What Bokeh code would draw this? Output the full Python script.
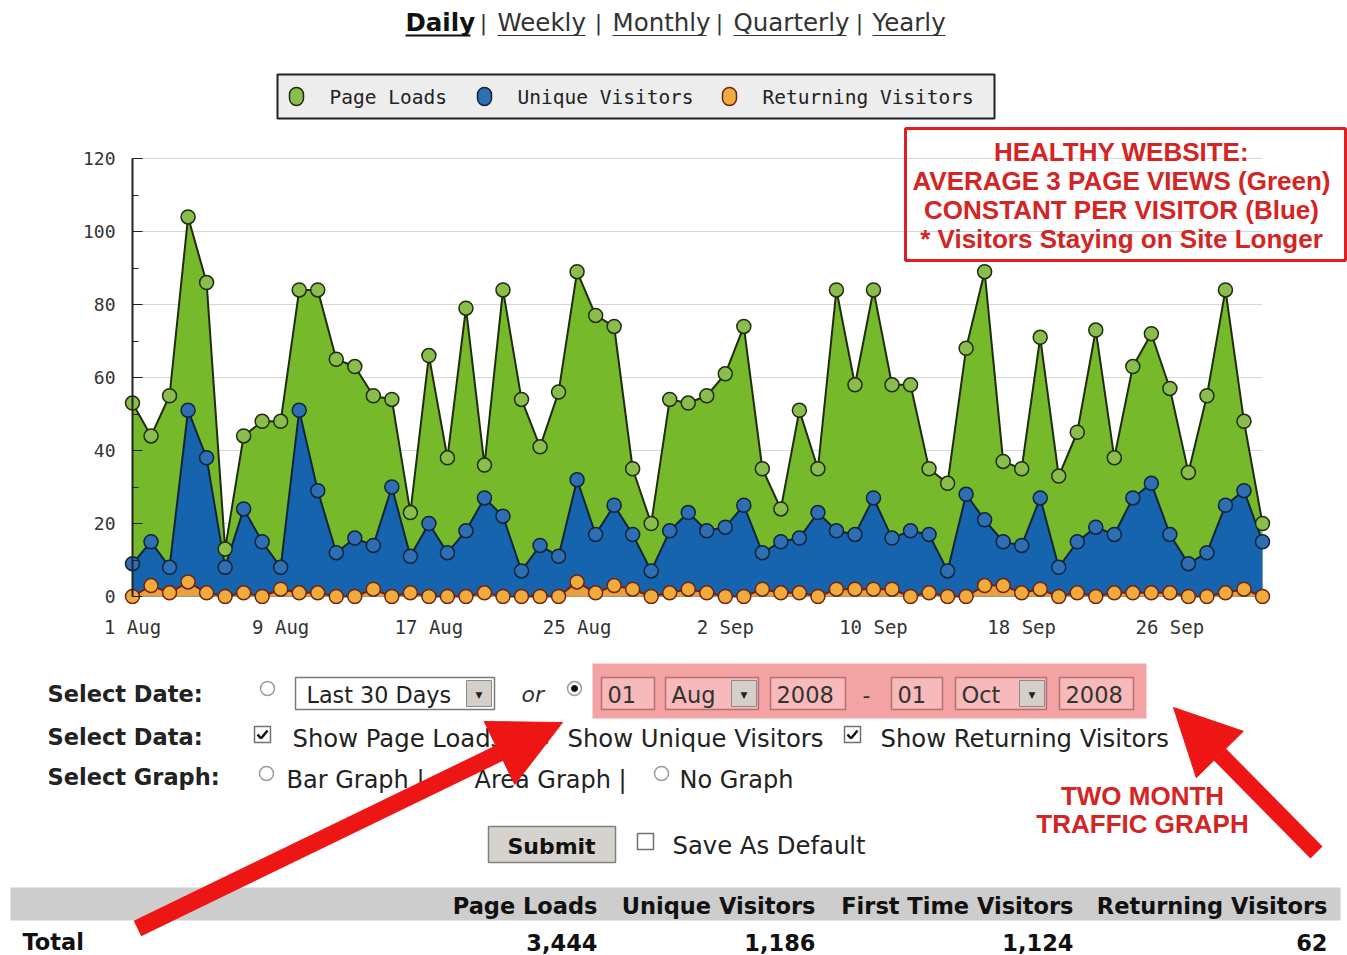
from bokeh.plotting import figure
from bokeh.layouts import column
from bokeh.models import (Range1d, Label, BoxAnnotation, Arrow, NormalHead,
                          FixedTicker, SingleIntervalTicker, ColumnDataSource)
from bokeh.embed import file_html
from bokeh.resources import INLINE

# ---------------- data ----------------
days = list(range(62))  # 0 = 1 Aug 2008 ... 61 = 1 Oct 2008
page_loads = [53, 44, 55, 104, 86, 13, 44, 48, 48, 84,
              84, 65, 63, 55, 54, 23, 66, 38, 79, 36,
              84, 54, 41, 56, 89, 77, 74, 35, 20, 54,
              53, 55, 61, 74, 35, 24, 51, 35, 84, 58,
              84, 58, 58, 35, 31, 68, 89, 37, 35, 71,
              33, 45, 73, 38, 63, 72, 57, 34, 55, 84,
              48, 20]
unique_visitors = [9, 15, 8, 51, 38, 8, 24, 15, 8, 51,
                   29, 12, 16, 14, 30, 11, 20, 12, 18, 27,
                   22, 7, 14, 11, 32, 17, 25, 17, 7, 18,
                   23, 18, 19, 25, 12, 15, 16, 23, 18, 17,
                   27, 16, 18, 17, 7, 28, 21, 15, 14, 27,
                   8, 15, 19, 17, 27, 31, 17, 9, 12, 25,
                   29, 15]
returning_visitors = [0, 3, 1, 4, 1, 0, 1, 0, 2, 1,
                      1, 0, 0, 2, 0, 1, 0, 0, 0, 1,
                      0, 0, 0, 0, 4, 1, 3, 2, 0, 1,
                      2, 1, 0, 0, 2, 1, 1, 0, 2, 2,
                      2, 2, 0, 1, 0, 0, 3, 3, 1, 2,
                      0, 1, 0, 1, 1, 1, 1, 0, 0, 1,
                      2, 0]
tick_days = [0, 8, 16, 24, 32, 40, 48, 56]
tick_labels = ["1 Aug", "9 Aug", "17 Aug", "25 Aug", "2 Sep", "10 Sep", "18 Sep", "26 Sep"]
y_ticks_interval = 20

legend_names = ["Page Loads", "Unique Visitors", "Returning Visitors"]
nav_items = ["Daily", "Weekly", "Monthly", "Quarterly", "Yearly"]
table_headers = ["Page Loads", "Unique Visitors", "First Time Visitors", "Returning Visitors"]
table_totals = ["3,444", "1,186", "1,124", "62"]
note_lines = ["HEALTHY WEBSITE:", "AVERAGE 3 PAGE VIEWS (Green)",
              "CONSTANT PER VISITOR (Blue)", "* Visitors Staying on Site Longer"]

# ---------------- colours ----------------
G_AREA, G_MARK, G_LINE = "#76b92a", "#8abd4c", "#1f2c10"
B_AREA, B_MARK, B_LINE = "#1764ae", "#2e6fb4", "#13233a"
O_AREA, O_MARK, O_LINE = "#e9a03e", "#f1aa3c", "#6e2414"
RED = "#ee1515"
NOTE_RED = "#d42424"
W = 1347


def deco_figure(top, bottom):
    f = figure(width=W, height=bottom - top, x_range=Range1d(0, W), y_range=Range1d(bottom, top),
               output_backend="svg", toolbar_location=None,
               x_axis_location=None, y_axis_location=None, min_border=0)
    f.frame_align = False
    f.xgrid.visible = False
    f.ygrid.visible = False
    f.outline_line_color = None
    return f


# ---------------- chart figure (page rows 120..650) ----------------
PX_PER_DAY = 1130 / 61
PX_PER_UNIT = 438 / 120
FR_LEFT, FR_RIGHT, FR_TOP, FR_BOTTOM, FIG_BOTTOM = 68, W, 120, 604, 650
p = figure(width=W, height=FIG_BOTTOM - FR_TOP,
           x_range=Range1d((FR_LEFT - 132) / PX_PER_DAY, (FR_RIGHT - 132) / PX_PER_DAY),
           y_range=Range1d((596 - FR_BOTTOM) / PX_PER_UNIT, (596 - FR_TOP) / PX_PER_UNIT),
           output_backend="svg", toolbar_location=None,
           min_border_left=FR_LEFT, min_border_right=W - FR_RIGHT,
           min_border_top=0, min_border_bottom=FIG_BOTTOM - FR_BOTTOM)
p.frame_align = False
p.extra_x_ranges = {"px": Range1d(FR_LEFT, FR_RIGHT)}
p.extra_y_ranges = {"px": Range1d(FR_BOTTOM, FR_TOP)}
p.outline_line_color = None

p.yaxis.ticker = SingleIntervalTicker(interval=y_ticks_interval, num_minor_ticks=2)
p.yaxis.fixed_location = 0
p.yaxis.bounds = (0, 120)
p.yaxis.axis_line_color = "#222222"
p.yaxis.axis_line_width = 2
p.yaxis.major_tick_in = 10
p.yaxis.major_tick_out = 0
p.yaxis.minor_tick_in = 6
p.yaxis.minor_tick_out = 0
p.yaxis.major_tick_line_color = "#222222"
p.yaxis.minor_tick_line_color = "#222222"
p.yaxis.major_label_standoff = 17
p.yaxis.major_label_text_font = "DejaVu Sans Mono"
p.yaxis.major_label_text_font_size = "18px"
p.yaxis.major_label_text_color = "#333333"

p.xaxis.ticker = FixedTicker(ticks=tick_days, minor_ticks=[])
p.xaxis.major_label_overrides = {d: t for d, t in zip(tick_days, tick_labels)}
p.xaxis.axis_line_color = None
p.xaxis.major_tick_line_color = None
p.xaxis.minor_tick_line_color = None
p.xaxis.major_label_standoff = 5
p.xaxis.major_label_text_font = "DejaVu Sans Mono"
p.xaxis.major_label_text_font_size = "19px"
p.xaxis.major_label_text_color = "#333333"

p.xgrid.visible = False
p.ygrid.grid_line_color = "#d6d6d6"
p.ygrid.grid_line_width = 1
p.ygrid.cross_bounds = (0, 61)

src = ColumnDataSource(dict(x=days, pl=page_loads, uv=unique_visitors, rv=returning_visitors))
for col, area, line in [("pl", G_AREA, G_LINE), ("uv", B_AREA, B_LINE), ("rv", O_AREA, O_LINE)]:
    p.varea(x="x", y1=0, y2=col, source=src, fill_color=area)
    p.line("x", col, source=src, line_color=line, line_width=2)
for col, mark, line in [("pl", G_MARK, G_LINE), ("uv", B_MARK, B_LINE), ("rv", O_MARK, O_LINE)]:
    p.scatter("x", col, source=src, marker="circle", size=14,
              fill_color=mark, line_color=line, line_width=1.5)

top = deco_figure(0, FR_TOP)
bot = deco_figure(FIG_BOTTOM, 955)


# ---------------- helpers for the page decorations ----------------
def lab(f, x, y, text, size=24, font="DejaVu Sans", style="normal", color="#222222",
        align="left", baseline="middle", rn="default"):
    f.add_layout(Label(x=x, y=y, x_range_name=rn, y_range_name=rn, text=text,
                       text_font=font, text_font_size=f"{size}px", text_font_style=style,
                       text_color=color, text_align=align, text_baseline=baseline))


def box(f, l, r, t, b, fill="white", line="#808080", lw=1.0, radius=0, rn="default"):
    f.add_layout(BoxAnnotation(left=l, right=r, top=t, bottom=b,
                               x_range_name=rn, y_range_name=rn,
                               fill_color=fill, fill_alpha=1.0,
                               line_color=line, line_alpha=1.0, line_width=lw,
                               border_radius=int(radius)))


def seg(f, x0, y0, x1, y1, color="#222222", width=1.0):
    f.add_layout(Arrow(x_start=x0, y_start=y0, x_end=x1, y_end=y1,
                       line_color=color, line_width=width, end=None))


def radio(f, cx, cy, selected=False):
    box(f, cx - 7, cx + 7, cy - 7, cy + 7, fill="white", line="#9a9a9a", lw=1.5, radius=7)
    if selected:
        box(f, cx - 3, cx + 3, cy - 3, cy + 3, fill="#111111", line="#111111", lw=1, radius=3)


def checkbox(f, l, t, checked=True):
    box(f, l, l + 16, t, t + 16, fill="white", line="#707070", lw=1.5)
    if checked:
        seg(f, l + 3, t + 8, l + 6.5, t + 12, "#111111", 2.5)
        seg(f, l + 6.5, t + 12, l + 13, t + 4, "#111111", 2.5)


def dropdown_btn(f, l, t, b):
    box(f, l, l + 25, t, b, fill="#d4d0c8", line="#8a8a8a", lw=1)
    lab(f, l + 12.5, (t + b) / 2 + 1, "\u25bc", size=9, color="#222222", align="center")


# ---------------- navigation links ----------------
nav_x = [405, 497, 612, 733, 872]
nav_w = [65, 88, 94, 113, 73]
for i, (name, x, w) in enumerate(zip(nav_items, nav_x, nav_w)):
    lab(top, x, 22, name, size=24.5, style="bold" if i == 0 else "normal",
        color="#111111" if i == 0 else "#333333")
    seg(top, x, 35, x + w, 35, "#111111" if i == 0 else "#333333", 2 if i == 0 else 1.2)
    if i < len(nav_items) - 1:
        lab(top, x + w + 13, 22, "|", size=22, color="#333333", align="center")

# ---------------- legend ----------------
box(top, 277, 994, 74, 118, fill="#ededed", line="#222222", lw=2)
leg_x = [296, 484, 729]
for name, x, mark, line in zip(legend_names, leg_x, [G_MARK, B_MARK, O_MARK], [G_LINE, B_LINE, O_LINE]):
    box(top, x - 7, x + 7, 87, 105, fill=mark, line=line, lw=1.5, radius=7)
    lab(top, x + 33, 97, name, size=19.5, font="DejaVu Sans Mono", color="#222222")

# ---------------- annotation box (over the chart) ----------------
box(p, 905, 1345, 128, 260, fill=None, line="#e02020", lw=3, rn="px")
for i, t in enumerate(note_lines):
    lab(p, 1121, 151 + 29 * i, t, size=26, font="Liberation Sans", style="bold",
        color=NOTE_RED, align="center", rn="px")

# ---------------- form ----------------
lab(bot, 47, 693, "Select Date:", size=22.5, style="bold", color="#222222")
lab(bot, 47, 736, "Select Data:", size=22.5, style="bold", color="#222222")
lab(bot, 47, 776, "Select Graph:", size=22.5, style="bold", color="#222222")

radio(bot, 267, 688, False)
box(bot, 295, 494, 677, 709, fill="white", line="#7a7a7a", lw=1.5)
lab(bot, 306, 694, "Last 30 Days", size=22.3, color="#222222")
dropdown_btn(bot, 466, 680, 706)
lab(bot, 521, 694, "or", size=22, style="italic", color="#333333")
radio(bot, 574, 688, True)

box(bot, 592, 1146, 663, 718, fill="#f3a3a3", line=None)
inputs = [(601, 654, "01"), (665, 758, "Aug"), (770, 845, "2008"),
          (891, 942, "01"), (955, 1046, "Oct"), (1059, 1133, "2008")]
for l, r, t in inputs:
    box(bot, l, r, 677, 709, fill="#f7b9b9", line="#b77070", lw=1.5)
    lab(bot, l + 6, 694, t, size=22.5, color="#333333")
dropdown_btn(bot, 731, 680, 706)
dropdown_btn(bot, 1019, 680, 706)
lab(bot, 866, 694, "-", size=22, color="#333333", align="center")

checkbox(bot, 254, 726)
lab(bot, 292, 738, "Show Page Loads", size=24.3, color="#222222")
checkbox(bot, 531, 727)
lab(bot, 567, 738, "Show Unique Visitors", size=24.3, color="#222222")
checkbox(bot, 844, 726)
lab(bot, 880, 738, "Show Returning Visitors", size=24.3, color="#222222")

radio(bot, 266, 773)
lab(bot, 286, 779, "Bar Graph |", size=24, color="#222222")
radio(bot, 457, 773, True)
lab(bot, 474, 779, "Area Graph |", size=24, color="#222222")
radio(bot, 661, 773)
lab(bot, 679, 779, "No Graph", size=24, color="#222222")

box(bot, 488, 615, 826, 862, fill="#d6d3ce", line="#808080", lw=1.5)
lab(bot, 551, 846, "Submit", size=22, style="bold", color="#111111", align="center")
checkbox(bot, 637, 833, checked=False)
lab(bot, 672, 845, "Save As Default", size=24.3, color="#222222")

lab(bot, 1142, 795, "TWO MONTH", size=26, font="Liberation Sans", style="bold", color=NOTE_RED, align="center")
lab(bot, 1142, 823, "TRAFFIC GRAPH", size=26, font="Liberation Sans", style="bold", color=NOTE_RED, align="center")

# ---------------- totals table ----------------
box(bot, 10, 1340, 887, 920, fill="#cdcdcd", line=None)
col_right = [597, 815, 1073, 1327]
for h, v, r in zip(table_headers, table_totals, col_right):
    lab(bot, r, 905, h, size=22.5, style="bold", color="#111111", align="right")
    lab(bot, r, 942, v, size=22.5, style="bold", color="#111111", align="right")
lab(bot, 22, 941, "Total", size=22.5, style="bold", color="#111111")

# ---------------- red arrows ----------------
bot.add_layout(Arrow(x_start=137, y_start=928, x_end=562, y_end=722,
                     line_color=RED, line_width=17,
                     end=NormalHead(size=70, fill_color=RED, line_color=RED, line_width=1)))
bot.add_layout(Arrow(x_start=1316, y_start=852, x_end=1173, y_end=707,
                     line_color=RED, line_width=17,
                     end=NormalHead(size=66, fill_color=RED, line_color=RED, line_width=1)))

layout = column(top, p, bot, spacing=0)
open("out.html", "w").write(file_html(layout, INLINE))
